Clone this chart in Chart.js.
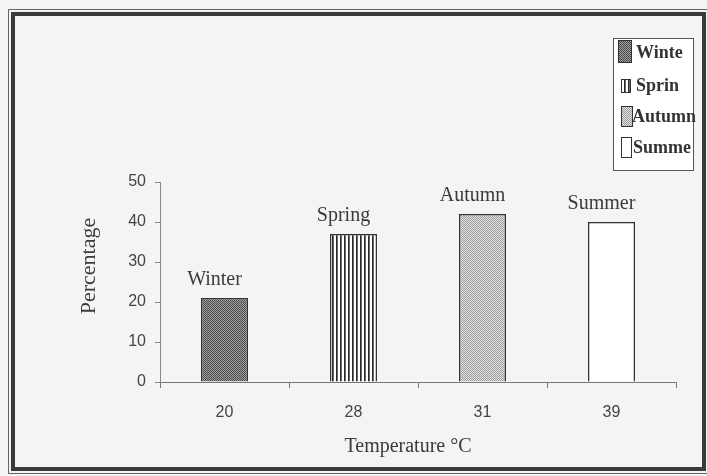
<!DOCTYPE html>
<html>
<head>
<meta charset="utf-8">
<script src="https://cdn.jsdelivr.net/npm/chart.js@4"></script>
<style>
html,body{margin:0;padding:0;background:#f4f4f2;}
#wrap{position:relative;width:707px;height:476px;overflow:hidden;}
#frame{position:absolute;left:11px;top:12px;width:687px;height:451px;border:4px solid #3a3a3a;box-shadow:0 0 0 2px #f4f4f2,0 0 0 3px #666;}
canvas{position:absolute;left:0;top:0;}
</style>
</head>
<body>
<div id="wrap">
<div id="frame"></div>
<canvas id="c" width="707" height="476"></canvas>
</div>
<script>
const categories = ["20", "28", "31", "39"];
const seasons = ["Winter", "Spring", "Autumn", "Summer"];
const values = [21, 37, 42, 40];
const legendLabels = ["Winte", "Sprin", "Autumn", "Summe"];
const yTicks = [0, 10, 20, 30, 40, 50];
const xTitle = "Temperature °C";
const yTitle = "Percentage";

function makePattern(kind) {
  const t = document.createElement('canvas');
  const ctx = t.getContext('2d');
  if (kind === 0) {
    t.width = 2; t.height = 2;
    ctx.fillStyle = '#a0a0a0'; ctx.fillRect(0,0,2,2);
    ctx.fillStyle = '#4a4a4a'; ctx.fillRect(0,0,1,1); ctx.fillRect(1,1,1,1);
  } else if (kind === 1) {
    t.width = 4; t.height = 2;
    ctx.fillStyle = '#ffffff'; ctx.fillRect(0,0,4,2);
    ctx.fillStyle = '#2a2a2a'; ctx.fillRect(0,0,1.7,2);
  } else if (kind === 2) {
    t.width = 2; t.height = 2;
    ctx.fillStyle = '#e2e2de'; ctx.fillRect(0,0,2,2);
    ctx.fillStyle = '#9c9c9c'; ctx.fillRect(0,0,1,1); ctx.fillRect(1,1,1,1);
  } else {
    t.width = 2; t.height = 2;
    ctx.fillStyle = '#ffffff'; ctx.fillRect(0,0,2,2);
  }
  return document.createElement('canvas').getContext('2d').createPattern(t, 'repeat');
}
const patterns = [0,1,2,3].map(makePattern);

const barLabelPlugin = {
  id: 'barLabels',
  afterDatasetsDraw(chart) {
    const ctx = chart.ctx;
    const meta = chart.getDatasetMeta(0);
    ctx.save();
    ctx.font = '20px "Liberation Serif", serif';
    ctx.fillStyle = '#3a3a3a';
    ctx.textAlign = 'center';
    ctx.textBaseline = 'alphabetic';
    meta.data.forEach((bar, i) => {
      ctx.fillText(seasons[i], bar.x - 10, bar.y - 13);
    });
    // axis titles
    const ca = chart.chartArea;
    ctx.font = '20px "Liberation Serif", serif';
    ctx.textBaseline = 'middle';
    ctx.fillText(xTitle, (ca.left + ca.right) / 2 - 10, 447);
    ctx.font = '22px "Liberation Serif", serif';
    ctx.translate(89, ca.top + (ca.bottom - ca.top) * 0.42);
    ctx.rotate(-Math.PI / 2);
    ctx.fillText(yTitle, 0, 0);
    ctx.restore();
  }
};

const legendPlugin = {
  id: 'customLegend',
  afterDraw(chart) {
    const ctx = chart.ctx;
    ctx.save();
    ctx.fillStyle = '#ffffff';
    ctx.fillRect(613, 38, 80, 132);
    ctx.strokeStyle = '#555';
    ctx.lineWidth = 1;
    ctx.strokeRect(613.5, 38.5, 80, 132);
    const sw = [[618,40,13,22],[621,79,9,13],[621,106,11,20],[621,137,10,20]];
    const ty = [53, 86, 117, 148];
    const tx = [636, 636, 632, 633];
    ctx.font = 'bold 18px "Liberation Serif", serif';
    ctx.textBaseline = 'middle';
    ctx.textAlign = 'left';
    legendLabels.forEach((lab, i) => {
      const [x,y,w,h] = sw[i];
      ctx.fillStyle = patterns[i];
      ctx.fillRect(x, y, w, h);
      ctx.strokeStyle = '#333';
      ctx.strokeRect(x + 0.5, y + 0.5, w, h);
      ctx.fillStyle = '#333';
      ctx.fillText(lab, tx[i], ty[i]);
    });
    ctx.restore();
  }
};

new Chart(document.getElementById('c'), {
  type: 'bar',
  data: {
    labels: categories,
    datasets: [{
      data: values,
      backgroundColor: patterns,
      borderColor: '#333',
      borderWidth: 1.5,
      barPercentage: 0.9,
      categoryPercentage: 0.405
    }]
  },
  options: {
    responsive: false,
    animation: false,
    events: [],
    layout: { padding: { left: 78, right: 31, top: 182, bottom: 14 } },
    plugins: { legend: { display: false }, tooltip: { enabled: false } },
    scales: {
      x: {
        grid: { drawOnChartArea: false, offset: true, tickLength: 6, color: '#777' },
        border: { color: '#777', width: 1 },
        ticks: { color: '#444', font: { family: '"Liberation Sans", Arial, sans-serif', size: 16 }, padding: 15 },
        afterFit(s) { s.height = 80; }
      },
      y: {
        min: 0, max: 50,
        afterBuildTicks(s) { s.ticks = yTicks.map(v => ({ value: v })); },
        grid: { drawOnChartArea: false, tickLength: 5, color: '#888' },
        border: { color: '#888', width: 1 },
        ticks: { color: '#444', font: { family: '"Liberation Sans", Arial, sans-serif', size: 16 }, padding: 9 },
        afterFit(s) { s.width = 82; }
      }
    }
  },
  plugins: [barLabelPlugin, legendPlugin]
});
</script>
</body>
</html>
